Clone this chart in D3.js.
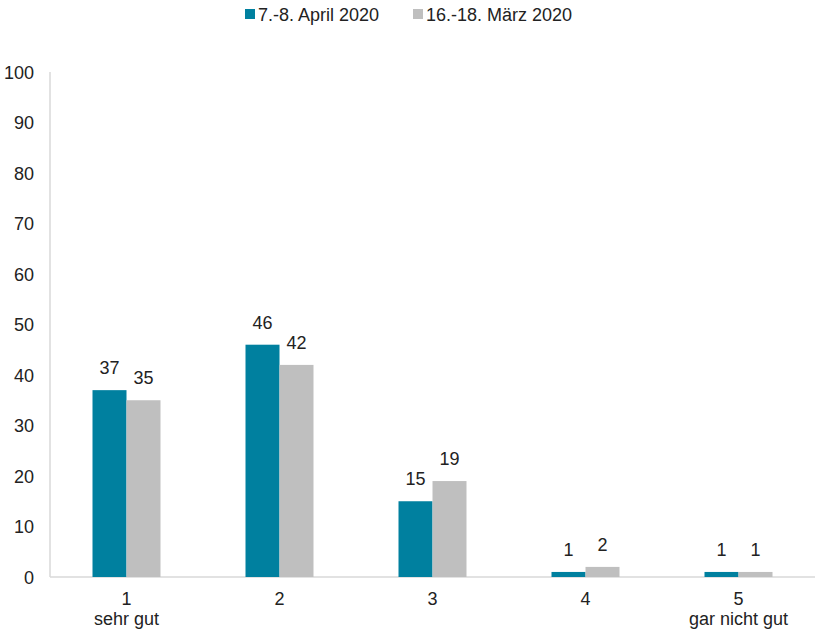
<!DOCTYPE html>
<html><head><meta charset="utf-8">
<script src="https://cdn.jsdelivr.net/npm/d3@7"></script>
<style>body{margin:0;background:#fff}text{font-family:"Liberation Sans",Arial,sans-serif;fill:#222}</style>
</head><body>
<script>
const categories = ["1|sehr gut","2","3","4","5|gar nicht gut"];
const seriesNames = ["7.-8. April 2020","16.-18. März 2020"];
const april = [37,46,15,1,1];
const maerz = [35,42,19,2,1];
const yTicks = [0,10,20,30,40,50,60,70,80,90,100];
const colors = ["#00809F","#BFBFBF"];

const W=817,H=633;
const svg=d3.select("body").append("svg").attr("width",W).attr("height",H);
const x=d3.scaleBand().domain(categories).range([50,815]);
const y=d3.scaleLinear().domain([0,100]).range([577,72]);
const barW=34;
svg.append("line").attr("x1",50).attr("x2",50).attr("y1",y(100)).attr("y2",y(0)).attr("stroke","#d9d9d9").attr("stroke-width",1.5);
svg.append("line").attr("x1",50).attr("x2",815).attr("y1",y(0)).attr("y2",y(0)).attr("stroke","#d9d9d9").attr("stroke-width",1.5);
svg.selectAll(".yt").data(yTicks).enter().append("text").attr("x",34).attr("y",d=>y(d)+6.5).attr("text-anchor","end").attr("font-size",18).text(d=>d);
const series=[april,maerz];
series.forEach((vals,si)=>{
  const g=svg.append("g");
  g.selectAll("rect").data(vals).enter().append("rect")
   .attr("x",(d,i)=>x(categories[i])+x.bandwidth()/2-barW+si*barW)
   .attr("y",d=>y(d)).attr("width",barW).attr("height",d=>y(0)-y(d)).attr("fill",colors[si]);
  g.selectAll("text").data(vals).enter().append("text")
   .attr("x",(d,i)=>x(categories[i])+x.bandwidth()/2-barW/2+si*barW)
   .attr("y",d=>y(d)-16).attr("text-anchor","middle").attr("font-size",18).text(d=>d);
});
categories.forEach(c=>{
  const parts=c.split("|");
  const cx=x(c)+x.bandwidth()/2;
  const t=svg.append("text").attr("x",cx).attr("y",605).attr("text-anchor","middle").attr("font-size",18);
  parts.forEach((p,i)=>t.append("tspan").attr("x",cx).attr("dy",i?20:0).text(p));
});
const lx=[245,413];
seriesNames.forEach((n,i)=>{
  svg.append("rect").attr("x",lx[i]).attr("y",9).attr("width",10).attr("height",10).attr("fill",colors[i]);
  svg.append("text").attr("x",lx[i]+13).attr("y",20.5).attr("font-size",18).text(n);
});
</script>
</body></html>
